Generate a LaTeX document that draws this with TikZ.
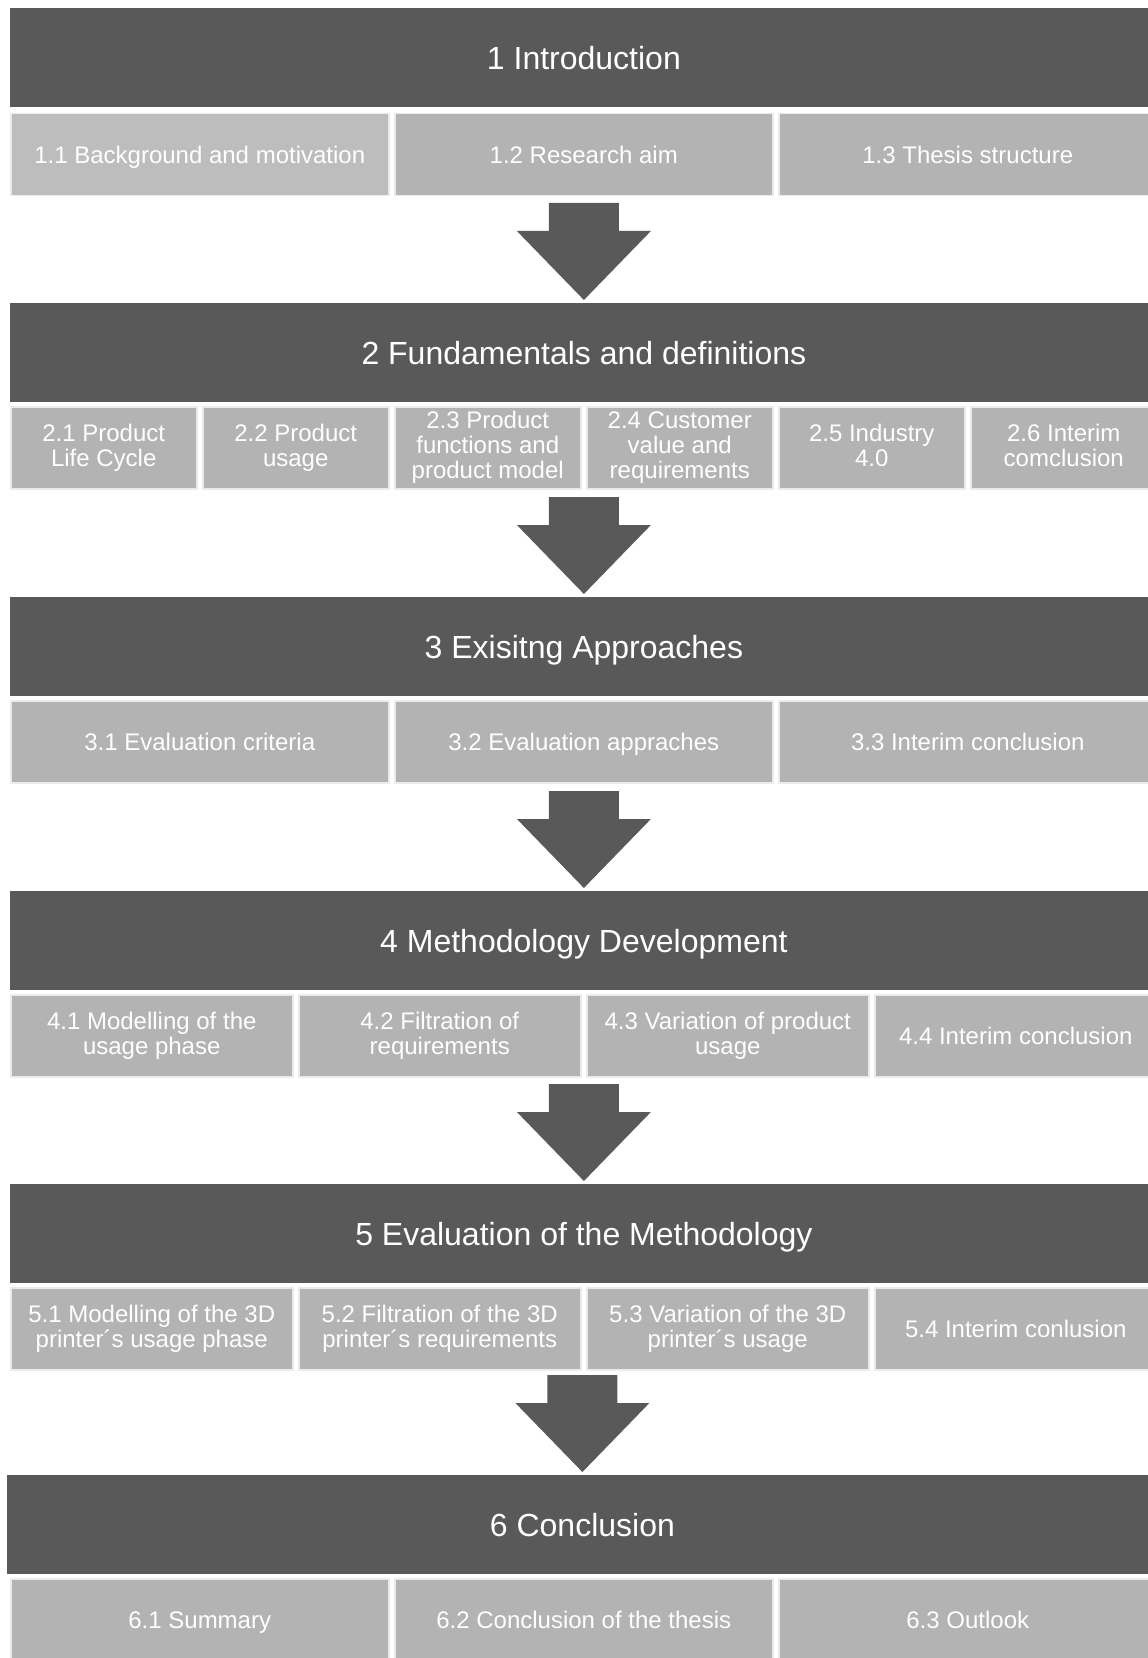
\documentclass[tikz,border=0pt]{standalone}
\usepackage{fontspec}
\setmainfont{Liberation Sans}
\usepackage{tikz}
\usetikzlibrary{calc}
\definecolor{chapgray}{HTML}{595959}
\definecolor{secgray}{HTML}{B3B3B3}
\definecolor{secgraylight}{HTML}{BDBDBD}
\definecolor{secline}{HTML}{EBEBEB}
\newcommand{\chaparrow}[1]{%
  \fill[chapgray] ($(#1.north)+(-35,-100)$) -- ++(70,0) -- ++(0,28) -- ++(32,0)
    -- ($(#1.north)+(0,-3)$) -- ++(-67,-69) -- ++(32,0) -- cycle;}

\begin{document}
\begin{tikzpicture}[x=0.5pt,y=-0.5pt,
    chap/.style={fill=chapgray,text=white,anchor=north west,inner sep=0pt,
      minimum width=573.5pt,minimum height=49.5pt,font=\fontsize{16}{19}\selectfont,
      execute at begin node={\rule{0pt}{0.92em}},execute at end node={\vphantom{g}}},
    sec/.style={fill=secgray,draw=secline,line width=0.75pt,text=white,anchor=north west,
      inner sep=0pt,minimum height=41pt,align=center,font=\fontsize{12}{12.5}\selectfont,
      execute at begin node={\rule{0pt}{0.92em}},execute at end node={\vphantom{g}}},
    secthree/.style={sec,minimum width=189pt},
    secfour/.style={sec,minimum width=141pt},
    secsix/.style={sec,minimum width=93pt}]
				\useasboundingbox (0,0) rectangle (1147,1658);
				% chapter 1
				\node[chap] (h1) at (10,8) {1 Introduction};
				\node[secthree,fill=secgraylight] (s11) at (10,113) {1.1 Background and motivation};
				\node[secthree] (s12) at (394,113) {1.2 Research aim};
				\node[secthree] (s13) at (778,113) {1.3 Thesis structure};
				% chapter 2
				\node[chap] (h2) at (10,303) {2 Fundamentals and definitions};
				\node[secsix] (s21) at (10,406) {2.1 Product\\Life Cycle};
				\node[secsix] (s22) at (202,406) {2.2 Product\\usage};
				\node[secsix] (s23) at (394,406) {2.3 Product\\functions and\\product model};
				\node[secsix] (s24) at (586,406) {2.4 Customer\\value and\\requirements};
				\node[secsix] (s25) at (778,406) {2.5 Industry\\4.0};
				\node[secsix] (s26) at (970,406) {2.6 Interim\\comclusion};
				% chapter 3
				\node[chap] (h3) at (10,597) {3 Exisitng Approaches};
				\node[secthree] (s31) at (10,700) {3.1 Evaluation criteria};
				\node[secthree] (s32) at (394,700) {3.2 Evaluation appraches};
				\node[secthree] (s33) at (778,700) {3.3 Interim conclusion};
				% chapter 4
				\node[chap] (h4) at (10,891) {4 Methodology Development};
				\node[secfour] (s41) at (10,994) {4.1 Modelling of the\\usage phase};
				\node[secfour] (s42) at (298,994) {4.2 Filtration of\\requirements};
				\node[secfour] (s43) at (586,994) {4.3 Variation of product\\usage};
				\node[secfour] (s44) at (874,994) {4.4 Interim conclusion};
				% chapter 5
				\node[chap] (h5) at (10,1184) {5 Evaluation of the Methodology};
				\node[secfour] (s51) at (10,1287) {5.1 Modelling of the 3D\\printer´s usage phase};
				\node[secfour] (s52) at (298,1287) {5.2 Filtration of the 3D\\printer´s requirements};
				\node[secfour] (s53) at (586,1287) {5.3 Variation of the 3D\\printer´s usage};
				\node[secfour] (s54) at (874,1287) {5.4 Interim conlusion};
				% chapter 6
				\node[chap,minimum width=575pt] (h6) at (7,1475) {6 Conclusion};
				\node[secthree] (s61) at (10,1578) {6.1 Summary};
				\node[secthree] (s62) at (394,1578) {6.2 Conclusion of the thesis};
				\node[secthree] (s63) at (778,1578) {6.3 Outlook};
				% arrows
				\chaparrow{h2}
				\chaparrow{h3}
				\chaparrow{h4}
				\chaparrow{h5}
				\chaparrow{h6}
\end{tikzpicture}
\end{document}
